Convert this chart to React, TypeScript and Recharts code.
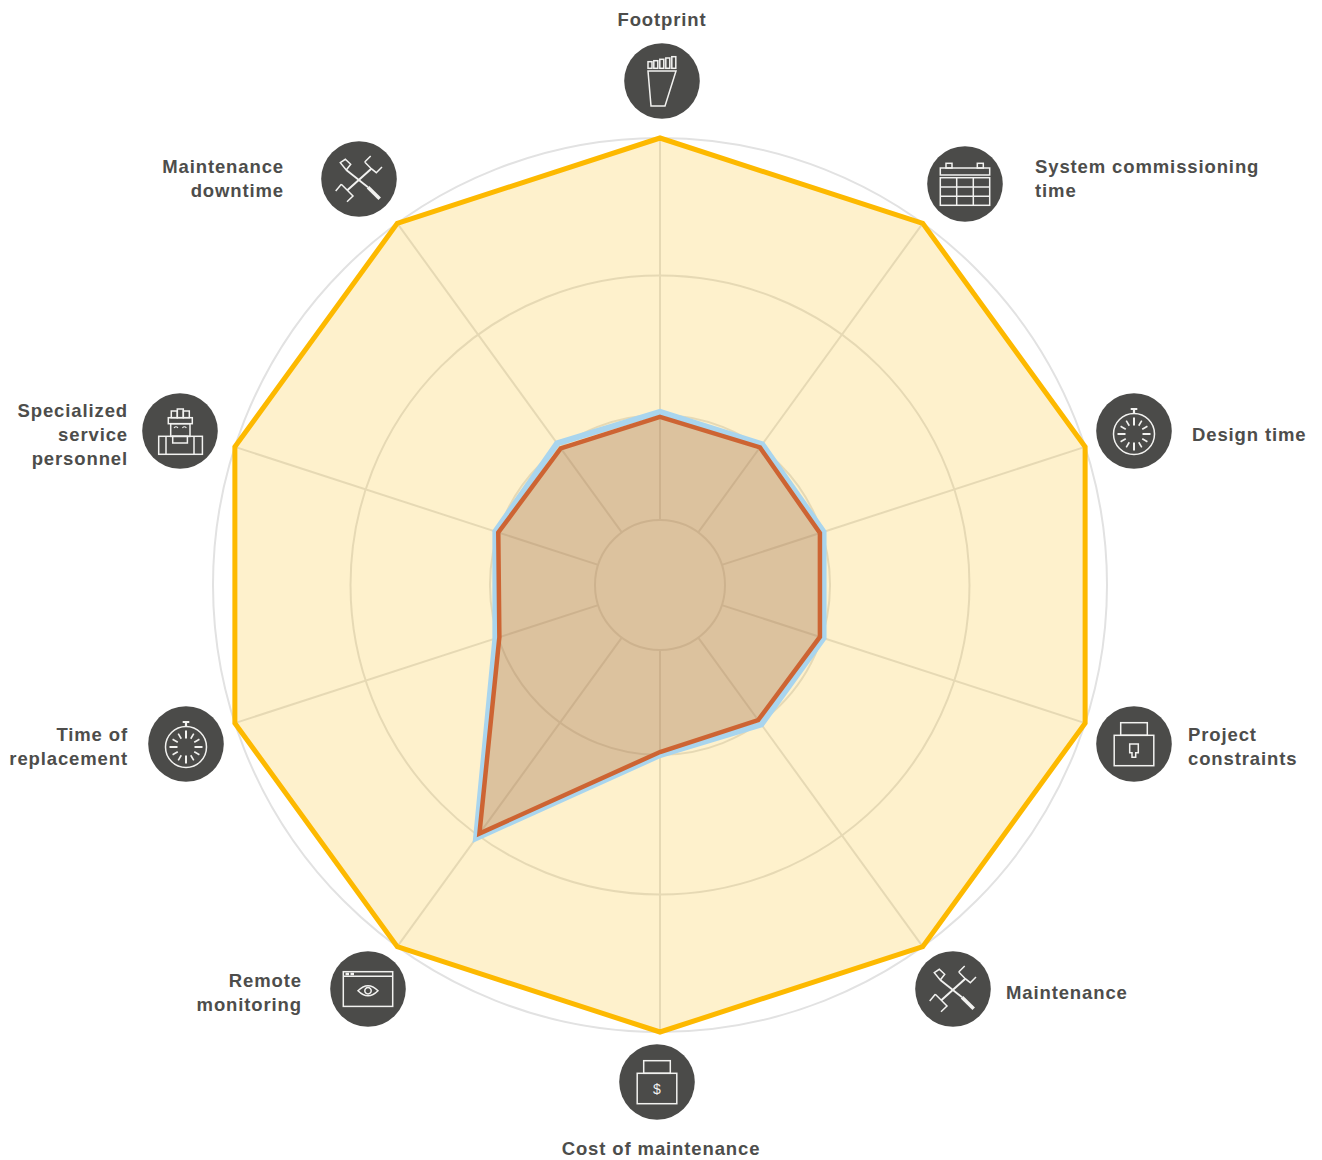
import { PolarAngleAxis, PolarGrid, PolarRadiusAxis, Radar, RadarChart } from "recharts";

const CATEGORIES = [
  "Footprint",
  "System commissioning time",
  "Design time",
  "Project constraints",
  "Maintenance",
  "Cost of maintenance",
  "Remote monitoring",
  "Time of replacement",
  "Specialized service personnel",
  "Maintenance downtime",
];
const BEST_CASE = [100, 100, 100, 100, 100, 100, 100, 100, 100, 100];
const BLUE_VALUES = [28.3, 28.5, 28, 28, 28.1, 27.5, 64.9, 28.3, 28.3, 28.8];
const ORANGE_VALUES = [27, 27.5, 27, 27, 26.7, 26.7, 63.4, 27.2, 27.5, 27.2];
const RING_TICKS = [0, 27.5, 64, 100];

const chartData = CATEGORIES.map((category, i) => ({
  category,
  best: BEST_CASE[i],
  blue: BLUE_VALUES[i],
  orange: ORANGE_VALUES[i],
}));

const TEXT_COLOR = "#4d4d4b";
const BADGE_COLOR = "#4b4b49";
const ICON_LINE = "#f2f2f0";

function Stopwatch() {
  const spokes = [0, 30, 60, 90, 120, 150, 180, 210, 240, 270, 300, 330];
  return (
    <g>
      <circle cx={0} cy={3} r={20.5} />
      <path d="M0 -17.5V-22M-3.3 -22H3.3" strokeWidth={2.2} />
      {spokes.map((a) => (
        <line
          key={a}
          x1={0}
          y1={a % 90 === 0 ? -8.5 : -9.5}
          x2={0}
          y2={a % 90 === 0 ? -16.5 : -15.5}
          transform={`translate(0 3) rotate(${a})`}
          strokeWidth={a % 90 === 0 ? 2 : 1.6}
        />
      ))}
    </g>
  );
}

function Tools() {
  return (
    <g>
      <path d="M-18.7 -16.3L-13.7 -19.7L-8.3 -14.7L-12.7 -9Z" />
      <path d="M-12.7 -9L9 8.2" strokeWidth={1.8} />
      <path d="M9 8.2L20.7 19.7" strokeWidth={3.6} />
      <path d="M12.3 -10.3L-11.7 11.3" strokeWidth={2} />
      <path d="M5.7 -17L12.3 -10.3L17.3 -6.3L23 -12M5.7 -17L11.7 -23" />
      <path d="M-17.7 5.3L-11.7 11.3L-6 17L-12 22.7M-17.7 5.3L-23.3 12" />
    </g>
  );
}

function Lock({ dollar }: { dollar?: boolean }) {
  return (
    <g>
      <rect x={-13.3} y={-21.3} width={26.6} height={12.6} />
      <rect x={-19.8} y={-8.7} width={39.6} height={30.4} />
      {dollar ? (
        <text
          x={0}
          y={11.5}
          textAnchor="middle"
          fontSize={14}
          fontFamily="Liberation Sans"
          fill={ICON_LINE}
          stroke="none"
        >
          $
        </text>
      ) : (
        <path d="M-4.3 0H4.3V8.7H1.7V13.3H-2V8.7H-4.3Z" />
      )}
    </g>
  );
}

function Footprint() {
  const bars = [
    [-14, -19.3],
    [-8.2, -20.3],
    [-2.2, -21.7],
    [3.8, -23],
    [9.8, -24.3],
  ];
  return (
    <g>
      <path d="M-14 -10H14L3 25H-11Z" />
      {bars.map(([x, top]) => (
        <rect key={x} x={x} y={top} width={4} height={-12.7 - top} />
      ))}
    </g>
  );
}

function Calendar() {
  return (
    <g>
      <rect x={-19} y={-20.7} width={6} height={4.7} />
      <rect x={12.3} y={-20.7} width={6} height={4.7} />
      <rect x={-24.7} y={-16} width={49.4} height={7} />
      <rect x={-24.7} y={-6.3} width={49.4} height={27.6} />
      <path d="M-8.3 -6.3V21.3M8.3 -6.3V21.3M-24.7 3H24.7M-24.7 12.3H24.7" />
    </g>
  );
}

function Engineer() {
  return (
    <g>
      <rect x={-8.7} y={-20} width={6} height={6.7} />
      <rect x={-2.7} y={-22} width={6} height={8.7} />
      <rect x={3.3} y={-20} width={6} height={6.7} />
      <rect x={-11.7} y={-13.3} width={24} height={6} />
      <rect x={-9.3} y={-7.3} width={19.3} height={12.7} />
      <path d="M-6 -3Q-4 -5.5 -2 -3M2.4 -3Q4.4 -5.5 6.4 -3" strokeWidth={1.2} />
      <rect x={-21.3} y={5.3} width={43.7} height={18} />
      <path d="M-14 5.3V23.3M14 5.3V23.3" />
      <rect x={-7.3} y={5.3} width={14.7} height={6.7} />
    </g>
  );
}

function Monitor() {
  return (
    <g>
      <rect x={-24.7} y={-17.3} width={49.4} height={34.7} />
      <path d="M-24.7 -12.7H24.7" />
      <path d="M-22.5 -15H-19M-17.5 -15H-14" strokeWidth={2.4} />
      <path d="M-10 1.7Q0 -8.3 10 1.7Q0 11.7 -10 1.7Z" />
      <circle cx={0} cy={1.7} r={3.2} />
    </g>
  );
}

const TICK_LAYOUT = [
  { cx: 662, cy: 81, icon: <Footprint />, anchor: "middle", tx: 662, baselines: [26], lines: ["Footprint"] },
  { cx: 965, cy: 184, icon: <Calendar />, anchor: "start", tx: 1035, baselines: [173, 197], lines: ["System commissioning", "time"] },
  { cx: 1134, cy: 431, icon: <Stopwatch />, anchor: "start", tx: 1192, baselines: [441], lines: ["Design time"] },
  { cx: 1134, cy: 744, icon: <Lock />, anchor: "start", tx: 1188, baselines: [741, 765], lines: ["Project", "constraints"] },
  { cx: 953, cy: 989, icon: <Tools />, anchor: "start", tx: 1006, baselines: [999], lines: ["Maintenance"] },
  { cx: 657, cy: 1082, icon: <Lock dollar />, anchor: "middle", tx: 661, baselines: [1155], lines: ["Cost of maintenance"] },
  { cx: 368, cy: 989, icon: <Monitor />, anchor: "end", tx: 302, baselines: [987, 1011], lines: ["Remote", "monitoring"] },
  { cx: 186, cy: 744, icon: <Stopwatch />, anchor: "end", tx: 128, baselines: [741, 765], lines: ["Time of", "replacement"] },
  { cx: 180, cy: 431, icon: <Engineer />, anchor: "end", tx: 128, baselines: [417, 441, 465], lines: ["Specialized", "service", "personnel"] },
  { cx: 359, cy: 179, icon: <Tools />, anchor: "end", tx: 284, baselines: [173, 197], lines: ["Maintenance", "downtime"] },
];

function IconTick({ index }: { index: number }) {
  const t = TICK_LAYOUT[index];
  return (
    <g>
      <circle cx={t.cx} cy={t.cy} r={37.8} fill={BADGE_COLOR} />
      <g transform={`translate(${t.cx} ${t.cy})`} fill="none" stroke={ICON_LINE} strokeWidth={1.5}>
        {t.icon}
      </g>
      {t.lines.map((line, i) => (
        <text
          key={line}
          x={t.tx}
          y={t.baselines[i]}
          textAnchor={t.anchor as "start" | "middle" | "end"}
          fontFamily="Liberation Sans, Arial, sans-serif"
          fontWeight={700}
          fontSize={18.5}
          letterSpacing={0.88}
          fill={TEXT_COLOR}
        >
          {line}
        </text>
      ))}
    </g>
  );
}

export default function App() {
  return (
    <div style={{ position: "absolute", left: 0, top: 0, width: 1322, height: 1160 }}>
      <RadarChart
        width={1322}
        height={1160}
        data={chartData}
        cx={660}
        cy={585}
        innerRadius={65}
        outerRadius={447}
        margin={{ top: 0, right: 0, bottom: 0, left: 0 }}
      >
        <PolarGrid gridType="circle" stroke="#e2e2e2" strokeWidth={2} />
        <PolarAngleAxis
          dataKey="category"
          axisLine={false}
          tickLine={false}
          tick={(props: any) => <IconTick index={props.index} />}
        />
        <PolarRadiusAxis domain={[0, 100]} ticks={RING_TICKS} tick={false} axisLine={false} />
        <Radar
          dataKey="best"
          stroke="#fdb900"
          strokeWidth={5}
          fill="#fbb800"
          fillOpacity={0.2}
          dot={false}
          isAnimationActive={false}
        />
        <Radar
          dataKey="blue"
          stroke="#a9d5ee"
          strokeWidth={6}
          fill="none"
          dot={false}
          isAnimationActive={false}
        />
        <Radar
          dataKey="orange"
          stroke="#cd6433"
          strokeWidth={4.5}
          fill="#9f6a47"
          fillOpacity={0.35}
          dot={false}
          isAnimationActive={false}
        />
      </RadarChart>
    </div>
  );
}
